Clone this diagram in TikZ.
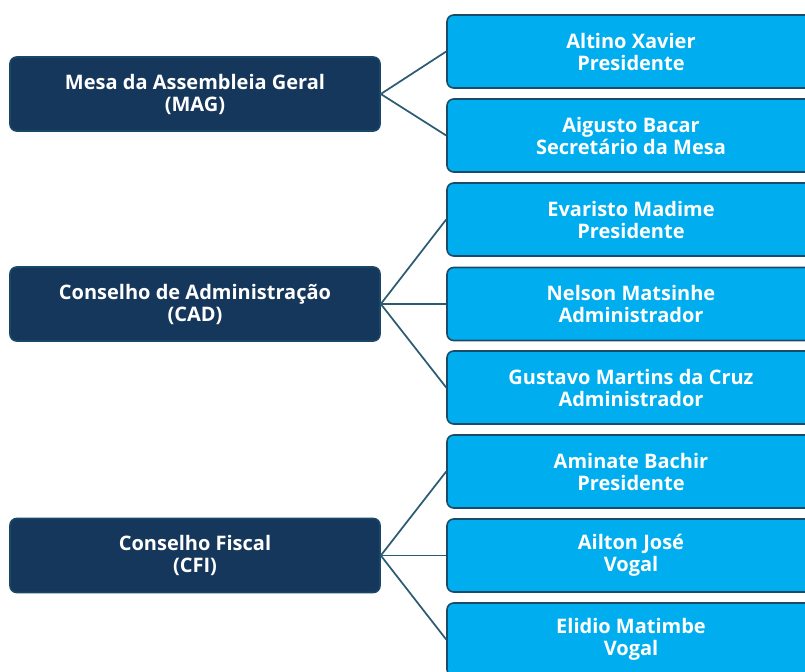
\documentclass[tikz,border=0pt]{standalone}
\usepackage{fontspec}
\setmainfont{Open Sans}
\usepackage{tikz}
\usetikzlibrary{shapes}
\definecolor{navy}{RGB}{22,55,92}
\definecolor{sky}{RGB}{0,174,239}
\definecolor{rim}{RGB}{26,75,105}
\definecolor{wire}{RGB}{44,92,114}
\tikzstyle{chair}=[rectangle,rounded corners=5pt,draw=rim!80!navy,fill=navy,text=white,line width=1.2pt,minimum width=277.5pt,minimum height=55.5pt,align=center,font=\bfseries\fontsize{15}{16.5}\selectfont]
\tikzstyle{member}=[rectangle,rounded corners=5pt,draw=rim,fill=sky,text=white,line width=1.2pt,minimum width=276pt,minimum height=54.75pt,align=center,font=\bfseries\fontsize{15}{16.5}\selectfont]
\tikzstyle{link}=[draw=wire,line width=1.3pt]

\begin{document}
\begin{tikzpicture}[x=0.75pt,y=-0.75pt]
    \useasboundingbox[fill=white] (0,0) rectangle (805,671);
    \clip (0,0) rectangle (805,671);
    \node[chair] at (195,94) (mag) {Mesa da Assembleia Geral\\(MAG)};
    \node[chair] at (195,304) (cad) {Conselho de Administração\\(CAD)};
    \node[chair] at (195,555.5) (cfi) {Conselho Fiscal\\(CFI)};
    \node[member] at (631,51.5) (altino) {Altino Xavier\\Presidente};
    \node[member] at (631,135.5) (augusto) {Aigusto Bacar\\Secretário da Mesa};
    \node[member] at (631,219.5) (evaristo) {Evaristo Madime\\Presidente};
    \node[member] at (631,304) (nelson) {Nelson Matsinhe\\Administrador};
    \node[member] at (631,387.5) (gustavo) {Gustavo Martins da Cruz\\Administrador};
    \node[member] at (631,471.5) (aminate) {Aminate Bachir\\Presidente};
    \node[member] at (631,555.5) (ailton) {Ailton José\\Vogal};
    \node[member] at (631,639.5) (elidio) {Elidio Matimbe\\Vogal};
    \draw[link] (mag.east) -- (altino.west);
    \draw[link] (mag.east) -- (augusto.west);
    \draw[link] (cad.east) -- (evaristo.west);
    \draw[link] (cad.east) -- (nelson.west);
    \draw[link] (cad.east) -- (gustavo.west);
    \draw[link] (cfi.east) -- (aminate.west);
    \draw[link] (cfi.east) -- (ailton.west);
    \draw[link] (cfi.east) -- (elidio.west);
  \end{tikzpicture}
\end{document}
